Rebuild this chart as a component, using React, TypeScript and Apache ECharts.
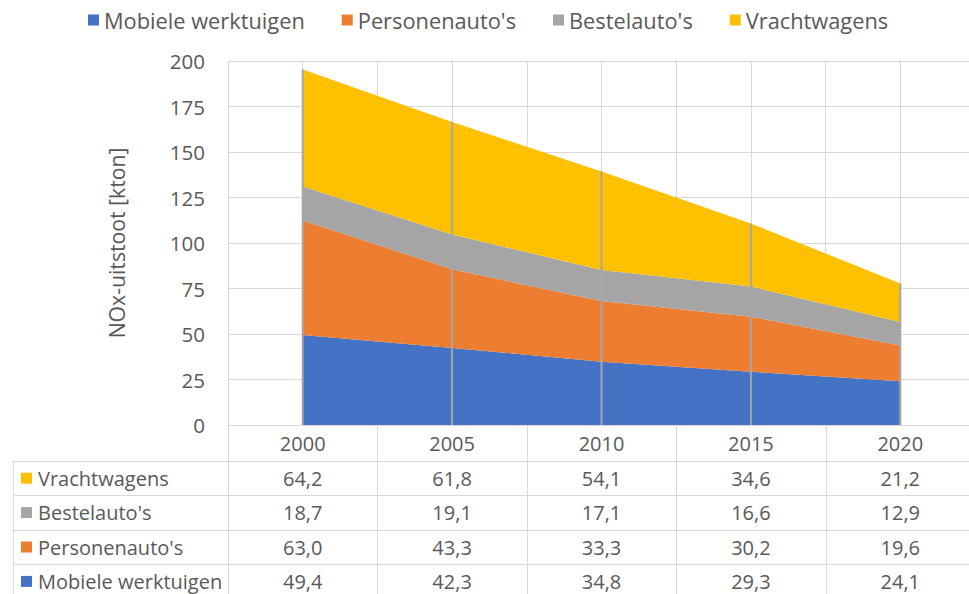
import React, { useEffect, useRef } from "react";
import * as echarts from "echarts";

const years = ["2000", "2005", "2010", "2015", "2020"];
const mobiele = [49.4, 42.3, 34.8, 29.3, 24.1];
const personen = [63.0, 43.3, 33.3, 30.2, 19.6];
const bestel = [18.7, 19.1, 17.1, 16.6, 12.9];
const vracht = [64.2, 61.8, 54.1, 34.6, 21.2];

const seriesNames = ["Mobiele werktuigen", "Personenauto's", "Bestelauto's", "Vrachtwagens"];
const seriesValues = [mobiele, personen, bestel, vracht];
const colors = ["#4472C4", "#ED7D31", "#A5A5A5", "#FFC000"];

const yMin = 0;
const yMax = 200;
const yInterval = 25;

const FONT = "'Open Sans', 'Noto Sans', sans-serif";
const TEXT = "#595959";
const GRID_LINE = "#d9d9d9";

const CHART_W = 980;
const PLOT_LEFT = 228;
const PLOT_TOP = 61;
const PLOT_W = 747;
const PLOT_H = 364;
const TABLE_LEFT = 13;
const ROW_H = 34.4;
const HEADER_H = 36;
const TABLE_FS = 20;

const fmt = (v: number) => v.toFixed(1).replace(".", ",");

export default function App() {
  const ref = useRef<HTMLDivElement>(null);
  useEffect(() => {
    if (!ref.current) return;
    const chart = echarts.init(ref.current, undefined, { renderer: "svg" });
    const totals = years.map((_, i) => seriesValues.reduce((s, arr) => s + arr[i], 0));
    const halfCats = Array.from({ length: years.length * 2 }, (_, i) => String(i));

    chart.setOption({
      animation: false,
      textStyle: { fontFamily: FONT },
      legend: {
        data: seriesNames,
        top: 4,
        left: 83,
        icon: "rect",
        itemWidth: 11,
        itemHeight: 11,
        itemGap: 37,
        textStyle: { color: TEXT, fontSize: 21.8, fontFamily: FONT },
      },
      grid: { left: PLOT_LEFT, top: PLOT_TOP, width: PLOT_W, height: PLOT_H },
      xAxis: [
        {
          type: "category",
          data: years,
          boundaryGap: true,
          axisLine: { show: true, lineStyle: { color: GRID_LINE, width: 1 } },
          axisTick: { show: false },
          axisLabel: { color: TEXT, fontSize: TABLE_FS, fontFamily: FONT, margin: 8 },
          splitLine: { show: false },
        },
        {
          type: "category",
          data: halfCats,
          boundaryGap: true,
          position: "bottom",
          axisLine: { show: false },
          axisTick: { show: false },
          axisLabel: { show: false },
          splitLine: { show: true, interval: 0, lineStyle: { color: GRID_LINE, width: 1 } },
        },
      ],
      yAxis: {
        type: "value",
        min: yMin,
        max: yMax,
        interval: yInterval,
        name: "NOx-uitstoot [kton]",
        nameLocation: "middle",
        nameGap: 101,
        nameTextStyle: { color: TEXT, fontSize: 21.2, fontFamily: FONT },
        axisLine: { show: false },
        axisTick: { show: false },
        axisLabel: { color: TEXT, fontSize: 20.5, fontFamily: FONT, margin: 23 },
        splitLine: { show: true, lineStyle: { color: GRID_LINE, width: 1 } },
      },
      series: [
        ...seriesNames.map((name, k) => ({
          name,
          type: "line",
          stack: "total",
          data: seriesValues[k],
          symbol: "none",
          showSymbol: false,
          lineStyle: { width: 0 },
          itemStyle: { color: colors[k] },
          areaStyle: { color: colors[k], opacity: 1 },
          z: 2,
        })),
        {
          name: "drop",
          type: "bar",
          data: totals,
          barWidth: 2,
          itemStyle: { color: "#A6A6A6" },
          z: 4,
        },
      ],
    });

    const xs = years.map((y) => chart.convertToPixel({ xAxisIndex: 0 }, y) as number);
    const colW = PLOT_W / years.length;
    const axisY = PLOT_TOP + PLOT_H;
    const rowsTop = axisY + HEADER_H;
    const tableRows = [3, 2, 1, 0];
    const nRows = tableRows.length;
    const bottom = rowsTop + ROW_H * nRows;
    const right = PLOT_LEFT + PLOT_W;
    const graphics: any[] = [];
    const line = (x1: number, y1: number, x2: number, y2: number) =>
      graphics.push({
        type: "line",
        silent: true,
        shape: { x1, y1, x2, y2 },
        style: { stroke: GRID_LINE, lineWidth: 1 },
      });
    for (let r = 0; r <= nRows; r++) {
      const y = Math.round(rowsTop + r * ROW_H) + 0.5;
      line(TABLE_LEFT + 0.5, y, right, y);
    }
    line(TABLE_LEFT + 0.5, rowsTop, TABLE_LEFT + 0.5, bottom);
    for (let c = 0; c <= years.length; c++) {
      const x = Math.round(PLOT_LEFT + c * colW) + 0.5;
      line(x, axisY, x, bottom);
    }
    tableRows.forEach((k, r) => {
      const cy = rowsTop + r * ROW_H + ROW_H / 2;
      graphics.push({
        type: "rect",
        silent: true,
        shape: { x: 21, y: cy - 5.5, width: 11, height: 11 },
        style: { fill: colors[k] },
      });
      graphics.push({
        type: "text",
        silent: true,
        x: 38,
        y: cy,
        style: {
          text: seriesNames[k],
          fontSize: TABLE_FS,
          fontFamily: FONT,
          fill: TEXT,
          align: "left",
          verticalAlign: "middle",
        },
      });
      seriesValues[k].forEach((v, i) => {
        graphics.push({
          type: "text",
          silent: true,
          x: xs[i],
          y: cy,
          style: {
            text: fmt(v),
            fontSize: TABLE_FS,
            fontFamily: FONT,
            fill: TEXT,
            align: "center",
            verticalAlign: "middle",
          },
        });
      });
    });
    chart.setOption({ graphic: graphics });

    return () => chart.dispose();
  }, []);
  return (
    <div
      style={{
        position: "fixed",
        left: 0,
        top: 0,
        width: 969,
        height: 594,
        overflow: "hidden",
        background: "#fff",
      }}
    >
      <div ref={ref} style={{ width: CHART_W, height: 594 }} />
    </div>
  );
}
